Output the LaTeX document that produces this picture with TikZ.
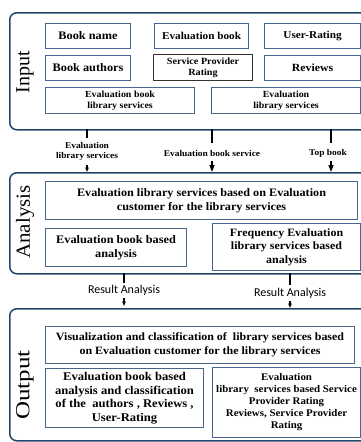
\documentclass[tikz,border=0pt]{standalone}
\usepackage{fontspec}
\setmainfont{Liberation Serif}[FakeStretch=1.07]
\newfontfamily\plainserif{Liberation Serif}
\newfontfamily\carl{Carlito}
\usetikzlibrary{arrows.meta}
\definecolor{outerc}{HTML}{24436A}
\definecolor{innerc}{HTML}{46678E}
\tikzset{
  outerbox/.style={draw=outerc, line width=1.5pt, rounded corners=7pt, anchor=north west, inner sep=0pt},
  ibox/.style={draw=innerc, line width=1.1pt, anchor=north west, inner sep=1pt, align=center, font=\bfseries},
  sidelabel/.style={rotate=90, inner sep=0pt},
  conn/.style={line width=1.4pt, black},
  conarrow/.style={line width=1.4pt, black, -{Triangle[width=5pt,length=7pt]}},
  smallarrow/.style={line width=1.2pt, black, -{Triangle[width=3.5pt,length=4.5pt]}},
  clabel/.style={font=\bfseries\fontsize{8.8}{10}\selectfont, align=center, inner sep=0pt},
  rlabel/.style={font=\carl\fontsize{12}{14}\selectfont, inner sep=0pt},
}
\begin{document}
\begin{tikzpicture}[x=1pt, y=-1pt]
\useasboundingbox (0,0) rectangle (361,442);
\clip (0,0) rectangle (361,442);
% ---------- Input ----------
\node[outerbox, minimum width=362pt, minimum height=117pt] (input) at (9,12) {};
\node[sidelabel, font=\plainserif\fontsize{20}{22}\selectfont] (inlab) at (25,72) {Input};
\node[ibox, minimum width=85pt, minimum height=25pt, font=\bfseries\fontsize{11.5}{13}\selectfont] (bname) at (45,23) {Book name};
\node[ibox, minimum width=94pt, minimum height=25pt, font=\bfseries\fontsize{10.5}{12}\selectfont] (evbook) at (154,23) {Evaluation book};
\node[ibox, minimum width=96pt, minimum height=25pt, font=\bfseries\fontsize{10.5}{12}\selectfont] (urating) at (264,23) {User-Rating};
\node[ibox, minimum width=85pt, minimum height=25pt, font=\bfseries\fontsize{11.5}{13}\selectfont] (bauth) at (45,55) {Book authors};
\node[ibox, draw=black!80, minimum width=99pt, minimum height=26pt, font=\bfseries\fontsize{9.5}{10.5}\selectfont] (spr) at (153,54) {Service Provider\\Rating};
\node[ibox, minimum width=96pt, minimum height=25pt, font=\bfseries\fontsize{11}{13}\selectfont] (reviews) at (264,55) {Reviews};
\node[ibox, minimum width=149pt, minimum height=26pt, font=\bfseries\fontsize{9.3}{11}\selectfont] (ebls) at (45,87) {Evaluation book\\library services};
\node[ibox, minimum width=149pt, minimum height=26pt, font=\bfseries\fontsize{9.3}{11}\selectfont] (els) at (211,87) {Evaluation\\library services};
% ---------- Analysis ----------
\node[outerbox, minimum width=362pt, minimum height=101pt] (analysis) at (9,172) {};
\node[sidelabel, font=\plainserif\fontsize{20}{22}\selectfont, xscale=1.05] (analab) at (25,222) {Analysis};
\node[ibox, minimum width=312pt, minimum height=38pt, font=\bfseries\fontsize{11.4}{13.5}\selectfont] (ana1) at (45,181) {Evaluation library services based on Evaluation\\customer for the library services};
\node[ibox, minimum width=141pt, minimum height=38pt, font=\bfseries\fontsize{11.5}{14}\selectfont] (ana2) at (45,228) {Evaluation book based\\analysis};
\node[ibox, minimum width=148pt, minimum height=47pt, font=\bfseries\fontsize{11.2}{13.5}\selectfont] (ana3) at (212,223) {Frequency Evaluation\\library services based\\analysis};
% connectors input -> analysis
\node[clabel] (l1) at (87,151) {Evaluation\\library services};
\node[clabel] (l2) at (212,153) {Evaluation book service};
\node[clabel] (l3) at (328,153) {Top book};
\coordinate (c1top) at (87,129);
\coordinate (c2top) at (212,129);
\coordinate (c3top) at (331,129);
\coordinate (c1mid) at (87,138);
\coordinate (c2mid) at (212,143);
\coordinate (c3mid) at (331,143);
\coordinate (c1s) at (87,165);
\coordinate (c2s) at (212,161);
\coordinate (c3s) at (331,161);
\coordinate (c1e) at (87,172);
\coordinate (c2e) at (212,172);
\coordinate (c3e) at (331,172);
\draw[conn] (c1top) -- (c1mid);
\draw[conn] (c2top) -- (c2mid);
\draw[conn] (c3top) -- (c3mid);
\draw[smallarrow] (c1s) -- (c1e);
\draw[conarrow] (c2s) -- (c2e);
\draw[conarrow] (c3s) -- (c3e);
% ---------- Output ----------
\node[outerbox, minimum width=362pt, minimum height=132pt] (output) at (9,308) {};
\node[sidelabel, font=\plainserif\fontsize{20}{22}\selectfont, xscale=1.25] (outlab) at (25,385) {Output};
\node[ibox, minimum width=309pt, minimum height=37pt, font=\bfseries\fontsize{11.2}{14}\selectfont] (out1) at (45,326) {Visualization and classification of\ \ library services based\\on Evaluation customer for the library services};
\node[ibox, minimum width=158pt, minimum height=59pt, font=\bfseries\fontsize{11.8}{13.5}\selectfont] (out2) at (45,368) {Evaluation book based\\analysis and classification\\of the\ \ authors , Reviews ,\\User-Rating};
\node[ibox, minimum width=148pt, minimum height=70pt, font=\bfseries\fontsize{10.2}{12}\selectfont] (out3) at (212,367) {Evaluation\\library\ \ services based Service\\Provider Rating\\Reviews, Service Provider\\Rating};
% connectors analysis -> output
\node[rlabel] (r1) at (124,290) {Result Analysis};
\node[rlabel] (r2) at (290,293) {Result Analysis};
\coordinate (d1top) at (124,273);
\coordinate (d2top) at (290,273);
\coordinate (d1mid) at (124,283);
\coordinate (d2mid) at (290,285);
\coordinate (d1s) at (124,298);
\coordinate (d2s) at (290,301);
\coordinate (d1e) at (124,306);
\coordinate (d2e) at (290,308);
\draw[conn, line width=1.1pt] (d1top) -- (d1mid);
\draw[conn, line width=1.1pt] (d2top) -- (d2mid);
\draw[smallarrow] (d1s) -- (d1e);
\draw[smallarrow] (d2s) -- (d2e);
\end{tikzpicture}
\end{document}
